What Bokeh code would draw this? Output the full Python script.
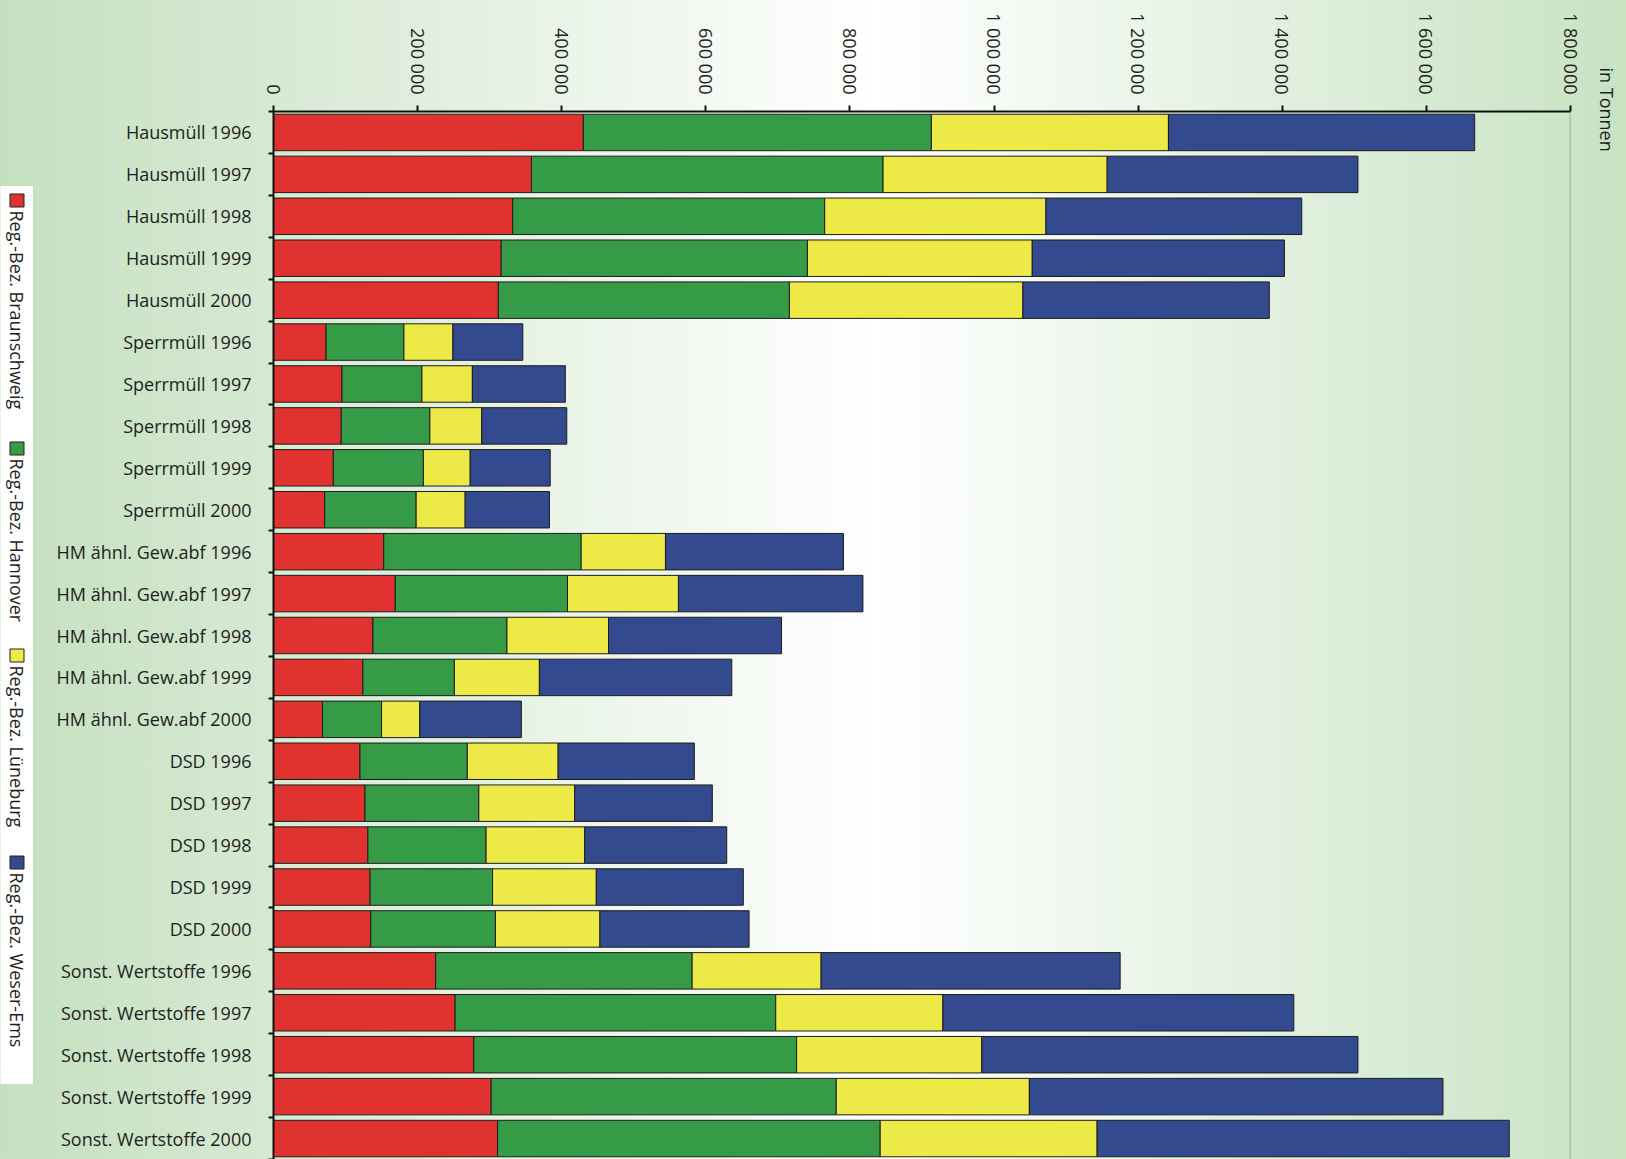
import math

from bokeh.core.properties import value
from bokeh.embed import file_html
from bokeh.layouts import row
from bokeh.models import ColumnDataSource, FixedTicker, Range1d, Span
from bokeh.plotting import figure
from bokeh.resources import INLINE

# ---- data (tonnes per year and waste type) ----
categories = [
    "Hausmüll 1996", "Hausmüll 1997", "Hausmüll 1998", "Hausmüll 1999", "Hausmüll 2000",
    "Sperrmüll 1996", "Sperrmüll 1997", "Sperrmüll 1998", "Sperrmüll 1999", "Sperrmüll 2000",
    "HM ähnl. Gew.abf 1996", "HM ähnl. Gew.abf 1997", "HM ähnl. Gew.abf 1998",
    "HM ähnl. Gew.abf 1999", "HM ähnl. Gew.abf 2000",
    "DSD 1996", "DSD 1997", "DSD 1998", "DSD 1999", "DSD 2000",
    "Sonst. Wertstoffe 1996", "Sonst. Wertstoffe 1997", "Sonst. Wertstoffe 1998",
    "Sonst. Wertstoffe 1999", "Sonst. Wertstoffe 2000",
]

braunschweig = [430000, 358000, 332000, 316000, 312000,
                73000, 95000, 94000, 83000, 71000,
                153000, 169000, 138000, 124000, 68000,
                120000, 127000, 131000, 134000, 135000,
                225000, 252000, 278000, 302000, 311000]
hannover = [483000, 488000, 433000, 425000, 404000,
            108000, 111000, 123000, 125000, 127000,
            274000, 239000, 186000, 127000, 82000,
            149000, 158000, 164000, 170000, 173000,
            356000, 445000, 448000, 479000, 531000]
lueneburg = [329000, 311000, 307000, 312000, 324000,
             68000, 70000, 72000, 65000, 68000,
             117000, 154000, 141000, 118000, 53000,
             126000, 133000, 137000, 144000, 145000,
             179000, 232000, 257000, 268000, 301000]
weser_ems = [425000, 348000, 355000, 350000, 342000,
             97000, 129000, 118000, 111000, 117000,
             247000, 256000, 240000, 267000, 141000,
             189000, 191000, 197000, 204000, 207000,
             415000, 487000, 522000, 574000, 572000]

series_names = ["Reg.-Bez. Braunschweig", "Reg.-Bez. Hannover",
                "Reg.-Bez. Lüneburg", "Reg.-Bez. Weser-Ems"]
series_colors = ["#e0332f", "#359b47", "#ede946", "#334a8e"]

tick_values = [0, 200000, 400000, 600000, 800000, 1000000,
               1200000, 1400000, 1600000, 1800000]
tick_labels = ["0", "200 000", "400 000", "600 000", "800 000", "1 000 000",
               "1 200 000", "1 400 000", "1 600 000", "1 800 000"]
unit_label = "in Tonnen"

FONT = "Open Sans"
TEXT_COLOR = "#1e1e1e"
PAGE_H = 1159
TOP = 111

# ---- main chart ----
n = len(categories)
centers = [i + 0.5 for i in range(n)]
edges = [float(i) for i in range(n + 1)]
keys = ["braunschweig", "hannover", "lueneburg", "weser_ems"]
source = ColumnDataSource(dict(
    y=centers, braunschweig=braunschweig, hannover=hannover,
    lueneburg=lueneburg, weser_ems=weser_ems,
))

p = figure(
    width=1593, height=PAGE_H,
    x_range=Range1d(0, tick_values[-1]),
    y_range=Range1d(n, 0),
    x_axis_location="above",
    title=unit_label, title_location="right",
    output_backend="svg", toolbar_location=None,
    min_border_left=240, min_border_right=56,
    min_border_top=TOP, min_border_bottom=0,
)
p.background_fill_alpha = 0
p.border_fill_alpha = 0
p.outline_line_color = None
p.xgrid.visible = False
p.ygrid.visible = False

# unit caption at the top right, reading downwards
p.title.align = "left"
p.title.vertical_align = "bottom"
p.title.offset = -44
p.title.standoff = 20
p.title.padding = (0, 0, 0, 14)
p.title.text_font = FONT
p.title.text_font_style = "normal"
p.title.text_font_size = "18px"
p.title.text_color = TEXT_COLOR

p.hbar_stack(keys, y="y", height=0.87, source=source,
             color=series_colors, line_color="#1c1c1c", line_width=1)

# right-hand frame edge
p.add_layout(Span(location=tick_values[-1], dimension="height",
                  line_color="#8c9a8c", line_width=1.5))

# top value axis
xa = p.xaxis[0]
xa.ticker = FixedTicker(ticks=tick_values)
xa.major_label_overrides = dict(zip(tick_values, tick_labels))
xa.major_label_orientation = -math.pi / 2
xa.major_label_standoff = 11
xa.major_label_text_font = FONT
xa.major_label_text_font_size = "18px"
xa.major_label_text_color = TEXT_COLOR
xa.axis_line_color = "#111111"
xa.axis_line_width = 2
xa.major_tick_line_color = "#111111"
xa.major_tick_line_width = 2
xa.major_tick_out = 6
xa.major_tick_in = 0
xa.minor_tick_line_color = None

# left category axis: labels at band centres, ticks at band edges
ya = p.yaxis[0]
ya.ticker = FixedTicker(ticks=centers, minor_ticks=edges)
ya.major_label_overrides = dict(zip(centers, categories))
ya.major_label_standoff = 16
ya.major_label_text_font = FONT
ya.major_label_text_font_size = "18px"
ya.major_label_text_color = TEXT_COLOR
ya.axis_line_color = "#111111"
ya.axis_line_width = 2
ya.major_tick_line_color = None
ya.minor_tick_line_color = "#111111"
ya.minor_tick_line_width = 2
ya.minor_tick_out = 5
ya.minor_tick_in = 0

# ---- vertical legend strip (coordinates are page pixels) ----
lg = figure(
    width=33, height=PAGE_H,
    x_range=Range1d(0, 33), y_range=Range1d(PAGE_H, TOP),
    output_backend="svg", toolbar_location=None,
    min_border_left=0, min_border_right=0,
    min_border_top=TOP, min_border_bottom=0,
)
lg.axis.visible = False
lg.xgrid.visible = False
lg.ygrid.visible = False
lg.outline_line_color = None
lg.background_fill_alpha = 0
lg.border_fill_alpha = 0

lg.quad(left=0, right=33, top=186, bottom=1083, color="white")
swatch_y = [200, 448, 655, 862]
lg.rect(x=16.5, y=swatch_y, width=14, height=13,
        fill_color=series_colors, line_color="#222222", line_width=1)
lg.text(x=16.5, y=[y + 10 for y in swatch_y], text=series_names,
        angle=-math.pi / 2, text_align="left", text_baseline="middle",
        text_font=value(FONT), text_font_size="18px", text_color=TEXT_COLOR)

layout = row(
    lg, p, spacing=0,
    styles={"background-image":
            "linear-gradient(to right, #c4e0bf 0%, #ffffff 54%, #c7e3c2 100%)"},
)

open("out.html", "w").write(file_html(layout, INLINE))
